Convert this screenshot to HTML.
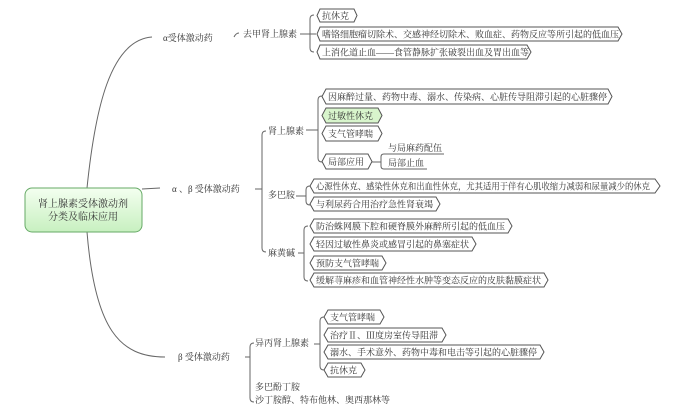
<!DOCTYPE html>
<html><head><meta charset="utf-8"><style>
body{margin:0;background:#fff;width:694px;height:412px;overflow:hidden}
svg{display:block}
text{font-family:"Liberation Serif","Noto Serif CJK SC",serif;font-size:9px;fill:#333}
.b{fill:#fff;stroke:#555;stroke-width:1}
.l{fill:none;stroke:#666;stroke-width:1}
</style></head><body>
<svg width="694" height="412" viewBox="0 0 694 412">
<defs><linearGradient id="g" x1="0" y1="0" x2="0" y2="1"><stop offset="0" stop-color="#f4fff0"/><stop offset="1" stop-color="#c8f0c0"/></linearGradient></defs>
<path class="l" d="M87 188 C95 110 110 40 152 37"/>
<path class="l" d="M87 232 C95 330 120 357 165 357"/>
<path class="l" d="M142 189 L160 188"/>
<rect x="25" y="188" width="117" height="44" rx="7" fill="url(#g)" stroke="#6a6" stroke-width="1"/>
<text x="83" y="207" text-anchor="middle" style="font-size:10px">肾上腺素受体激动剂</text>
<text x="83" y="220" text-anchor="middle" style="font-size:10px">分类及临床应用</text>

<text x="163" y="41">α受体激动药</text>
<path class="l" d="M234 37 q2 -4 5 -4"/>
<text x="243" y="37">去甲肾上腺素</text>
<path class="l" d="M300 34 H310 M314 15 q-4 0 -4 4 V48 q0 4 4 4 M310 34 H316"/>
<polygon class="b" points="320,9 354,9 357,15.5 354,22 320,22 317,15.5"/><text x="322" y="19">抗休克</text>
<polygon class="b" points="320,27 618,27 622,34 618,41 320,41 317,34"/><text x="322" y="37.5">嗜铬细胞瘤切除术、交感神经切除术、败血症、药物反应等所引起的低血压</text>
<polygon class="b" points="320,45 527,45 531,52 527,59 320,59 317,52"/><text x="322" y="55.5">上消化道止血——食管静脉扩张破裂出血及胃出血等</text>

<text x="172" y="192">α 、β 受体激动药</text>
<path class="l" d="M255 189 H262 M266 131 q-4 0 -4 4 V248 q0 4 4 4"/>
<text x="268" y="134">肾上腺素</text>
<text x="268" y="198">多巴胺</text>
<text x="268" y="256">麻黄碱</text>
<path class="l" d="M306 130 H318 M322 96 q-4 0 -4 4 V158 q0 4 4 4"/>
<polygon class="b" points="326,89 608,89 612,96.5 608,104 326,104 322,96.5"/><text x="328" y="100">因麻醉过量、药物中毒、溺水、传染病、心脏传导阻滞引起的心脏骤停</text>
<polygon points="326,108 378,108 382,115.5 378,123 326,123 322,115.5" fill="#d8f5cc" stroke="#555"/><text x="328" y="119">过敏性休克</text>
<polygon class="b" points="326,126 378,126 382,133.5 378,141 326,141 322,133.5"/><text x="328" y="137">支气管哮喘</text>
<polygon class="b" points="326,154 368,154 372,161.5 368,169 326,169 322,161.5"/><text x="328" y="165">局部应用</text>
<path class="l" d="M372 162 H381 M384 154 q-3 0 -3 3 V166 q0 3 3 3 M384 154 H444 M384 169 H427"/>
<text x="388" y="151">与局麻药配伍</text>
<text x="388" y="166">局部止血</text>

<path class="l" d="M296 196 H306 M310 186 q-4 0 -4 4 V201 q0 4 4 4"/>
<polygon class="b" points="314,179 655,179 660,186 655,193 314,193 310,186"/><text x="316" y="189.5" textLength="334" lengthAdjust="spacingAndGlyphs">心源性休克、感染性休克和出血性休克，尤其适用于伴有心肌收缩力减弱和尿量减少的休克</text>
<polygon class="b" points="314,197 436,197 440,204 436,211 314,211 310,204"/><text x="316" y="207.5">与利尿药合用治疗急性肾衰竭</text>

<path class="l" d="M298 253 H304 M308 226 q-4 0 -4 4 V277 q0 4 4 4"/>
<polygon class="b" points="314,219 508,219 512,226 508,233 314,233 310,226"/><text x="316" y="229.5">防治蛛网膜下腔和硬脊膜外麻醉所引起的低血压</text>
<polygon class="b" points="314,237 472,237 476,244 472,251 314,251 310,244"/><text x="316" y="247.5">轻因过敏性鼻炎或感冒引起的鼻塞症状</text>
<polygon class="b" points="314,256 382,256 386,263 382,270 314,270 310,263"/><text x="316" y="266.5">预防支气管哮喘</text>
<polygon class="b" points="314,273 544,273 548,280 544,287 314,287 310,280"/><text x="316" y="283.5">缓解荨麻疹和血管神经性水肿等变态反应的皮肤黏膜症状</text>

<text x="178" y="360">β 受体激动药</text>
<path class="l" d="M245 357 H250 M254 343 q-4 0 -4 4 V398 q0 4 4 4"/>
<text x="255" y="346">异丙肾上腺素</text>
<text x="255" y="390">多巴酚丁胺</text>
<text x="255" y="403">沙丁胺醇、特布他林、奥西那林等</text>
<path class="l" d="M314 344 H320 M324 317 q-4 0 -4 4 V366 q0 4 4 4"/>
<polygon class="b" points="328,310 380,310 384,317 380,324 328,324 324,317"/><text x="330" y="320.5">支气管哮喘</text>
<polygon class="b" points="328,328 442,328 446,335 442,342 328,342 324,335"/><text x="330" y="338.5">治疗Ⅱ、Ⅲ度房室传导阻滞</text>
<polygon class="b" points="328,345 540,345 544,352 540,359 328,359 324,352"/><text x="330" y="355.5">溺水、手术意外、药物中毒和电击等引起的心脏骤停</text>
<polygon class="b" points="328,363 361,363 365,370 361,377 328,377 324,370"/><text x="330" y="373.5">抗休克</text>
</svg>
</body></html>
